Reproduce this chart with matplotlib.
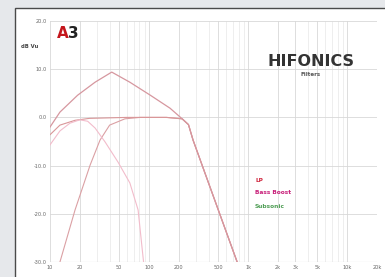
import matplotlib
matplotlib.use("Agg")
import matplotlib.pyplot as plt
from matplotlib.patches import Rectangle
from matplotlib.ticker import FixedLocator, NullFormatter

# frequency responses (Hz, dB)
boost_f = [10, 12.6, 19, 28.5, 42, 64, 103, 163, 216, 250, 278, 400, 600, 775]
boost_db = [-2, 1.1, 4.6, 7.3, 9.4, 7.3, 4.6, 1.9, -0.3, -1.5, -4.7, -13.7, -23.7, -30]

lp_f = [10, 12.6, 17.9, 25, 60, 150, 216, 250, 278, 400, 600, 775]
lp_db = [-3.6, -1.6, -0.6, -0.2, 0, 0, -0.3, -1.5, -4.7, -13.7, -23.7, -30]

hp_f = [12.6, 17.9, 25.4, 32, 40, 57, 81, 150, 216, 250, 278, 400, 600, 775]
hp_db = [-30, -19.2, -9.9, -4.7, -1.6, -0.3, 0, 0, -0.3, -1.5, -4.7, -13.7, -23.7, -30]

dome_f = [10, 12.6, 15.9, 20, 24, 28.5, 36, 48.7, 64, 77.5, 88]
dome_db = [-5.7, -2.8, -1.2, -0.5, -0.8, -2.2, -5.1, -9.3, -13.6, -19.2, -30]

x_ticks = [10, 20, 50, 100, 200, 500, 1000, 2000, 3000, 5000, 10000, 20000]
x_labels = ["10", "20", "50", "100", "200", "500", "1k", "2k", "3k", "5k", "10k", "20k"]
y_ticks = [-30, -20, -10, 0, 10, 20]
y_labels = ["-30.0", "-20.0", "-10.0", "0.0", "10.0", "20.0"]

legend_names = ["LP", "Bass Boost", "Subsonic"]
legend_colors = ["#d0243c", "#c8207a", "#4f9e55"]

fig = plt.figure(figsize=(3.85, 2.77), dpi=100)
fig.patch.set_facecolor("#e6e8eb")

# white panel with dark border
panel = Rectangle((15 / 385, -0.05), 1.0, (277 - 8) / 277 + 0.05,
                  transform=fig.transFigure, facecolor="white",
                  edgecolor="#4a4a4a", lw=1.0, zorder=-5)
fig.patches.append(panel)

ax = fig.add_axes([50 / 385, 15 / 277, 327 / 385, 241 / 277])
ax.patch.set_alpha(0)
ax.set_xscale("log")
ax.set_xlim(10, 20000)
ax.set_ylim(-30, 20)

minor = []
for dec in [10, 100, 1000, 10000]:
    for m in range(1, 10):
        v = dec * m
        if v <= 20000 and v not in x_ticks:
            minor.append(v)
ax.xaxis.set_major_locator(FixedLocator(x_ticks))
ax.xaxis.set_minor_locator(FixedLocator(minor))
ax.xaxis.set_minor_formatter(NullFormatter())
ax.set_xticklabels(x_labels)
ax.set_yticks(y_ticks)
ax.set_yticklabels(y_labels)

ax.grid(True, which="major", color="#d8d8d8", lw=0.6)
ax.grid(True, which="minor", axis="x", color="#e8e8e8", lw=0.5)
ax.tick_params(which="both", length=0, labelsize=3.6, colors="#666666", pad=2)
for s in ax.spines.values():
    s.set_visible(False)
ax.axhline(-30, color="#bbbbbb", lw=0.8)

ax.plot(hp_f, hp_db, color="#dba0a4", lw=0.8)
ax.plot(lp_f, lp_db, color="#d99698", lw=0.8)
ax.plot(dome_f, dome_db, color="#f2bccb", lw=0.8)
ax.plot(boost_f, boost_db, color="#d6979f", lw=0.9)

fig.text(30 / 385, 1 - 47 / 277, "dB Vu", fontsize=3.8, fontweight="bold",
         color="#444444", ha="center", va="center")

# A3 logo
fig.text(68.3 / 385, 1 - 34 / 277, "A", fontsize=11, fontweight="heavy",
         color="#c4161c", ha="right", va="center")
fig.text(68.4 / 385, 1 - 34 / 277, "3", fontsize=11, fontweight="heavy",
         color="#222222", ha="left", va="center")

fig.text(311 / 385, 1 - 62 / 277, "HIFONICS", fontsize=11.5, fontweight="bold",
         color="#333333", ha="center", va="center")
fig.text(311 / 385, 1 - 74 / 277, "Filters", fontsize=4, fontweight="bold",
         color="#555555", ha="center", va="center")

for i, (name, c) in enumerate(zip(legend_names, legend_colors)):
    fig.text(255 / 385, 1 - (180 + 13 * i) / 277, name, fontsize=4.2,
             fontweight="bold", color=c, ha="left", va="center")

fig.savefig("out.png", dpi=100, facecolor=fig.get_facecolor())
